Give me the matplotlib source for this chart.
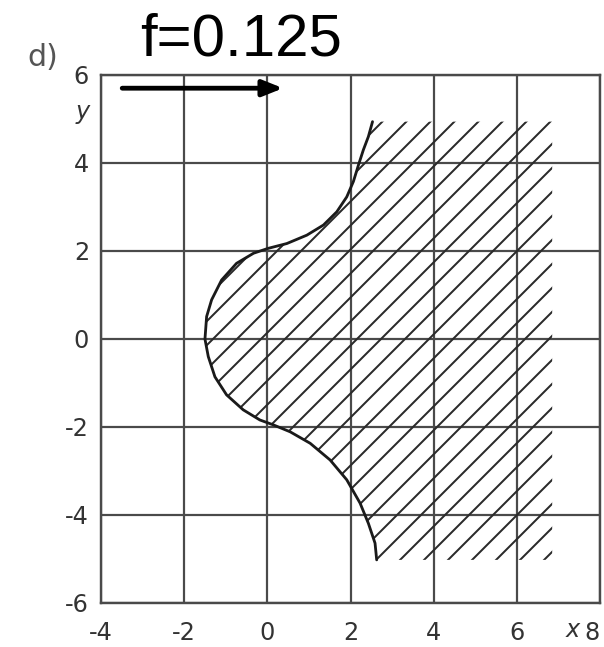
import matplotlib
matplotlib.use("Agg")
import matplotlib.pyplot as plt

# ---- data ----
curve_y = [-5.02, -4.64, -4.19, -3.73, -3.20, -2.75, -2.37, -2.11, -1.95, -1.84,
           -1.61, -1.27, -0.86, -0.40, 0.0, 0.51, 0.89, 1.34, 1.72, 1.95, 2.06,
           2.17, 2.36, 2.59, 2.89, 3.23, 3.58, 3.95, 4.30, 4.60, 4.94]
curve_x = [2.63, 2.59, 2.43, 2.23, 1.91, 1.51, 1.03, 0.55, 0.14, -0.18,
           -0.58, -0.98, -1.26, -1.42, -1.50, -1.46, -1.34, -1.10, -0.74, -0.33, 0.02,
           0.47, 0.95, 1.35, 1.67, 1.91, 2.07, 2.19, 2.31, 2.43, 2.53]
hatch_right = 6.85
x_ticks = [-4, -2, 0, 2, 4, 6, 8]
y_ticks = [-6, -4, -2, 0, 2, 4, 6]
title_text = "f=0.125"
panel_label = "d)"
arrow_start = (-3.49, 5.7)
arrow_end = (0.38, 5.7)

DPI = 144
plt.rcParams['axes.unicode_minus'] = False
plt.rcParams['hatch.linewidth'] = 1.0
plt.rcParams['hatch.color'] = '#2a2a2a'

fig = plt.figure(figsize=(604 / DPI, 647 / DPI), dpi=DPI)
fig.patch.set_facecolor('white')
ax = fig.add_axes([101 / 604, 44 / 647, 499 / 604, 528 / 647])

ax.set_xlim(-4, 8)
ax.set_ylim(-6, 6)

grid_c = '#4a4a4a'
ax.set_xticks(x_ticks)
ax.set_yticks(y_ticks)
ax.grid(True, color=grid_c, linewidth=1.1)
ax.set_axisbelow(True)
for s in ax.spines.values():
    s.set_color(grid_c)
    s.set_linewidth(1.2)

ax.tick_params(length=0, labelsize=12, labelcolor='#333333')
ax.tick_params(axis='x', pad=9)
ax.tick_params(axis='y', pad=6)
xl = ax.get_xticklabels()
xl[-1].set_horizontalalignment('right')

# hatched region
ax.fill_betweenx(curve_y, curve_x, hatch_right, facecolor='none',
                 edgecolor='#2a2a2a', hatch='//', linewidth=0)
# boundary curve
ax.plot(curve_x, curve_y, color='#1a1a1a', linewidth=1.4,
        solid_capstyle='round', solid_joinstyle='round')

ax.set_ylabel('y', rotation=0, fontsize=12, style='italic', color='#333333',
              va='center')
ax.yaxis.set_label_coords(-0.036, 0.93)
ax.set_xlabel('x', fontsize=12, style='italic', color='#333333', va='center')
ax.xaxis.set_label_coords(0.946, -0.052)

ax.annotate('', xy=arrow_end, xytext=arrow_start,
            arrowprops=dict(arrowstyle='-|>,head_length=0.4,head_width=0.16',
                            mutation_scale=21, lw=2.4, color='black',
                            shrinkA=0, shrinkB=0),
            annotation_clip=False)

fig.text(140 / 604, 1 - 55 / 647, title_text, fontsize=30,
         family='Liberation Sans', va='baseline', ha='left', color='black')
fig.text(27 / 604, 1 - 66 / 647, panel_label, fontsize=15,
         family='DejaVu Sans', va='baseline', ha='left', color='#555555')

fig.savefig('out.png', dpi=DPI)
